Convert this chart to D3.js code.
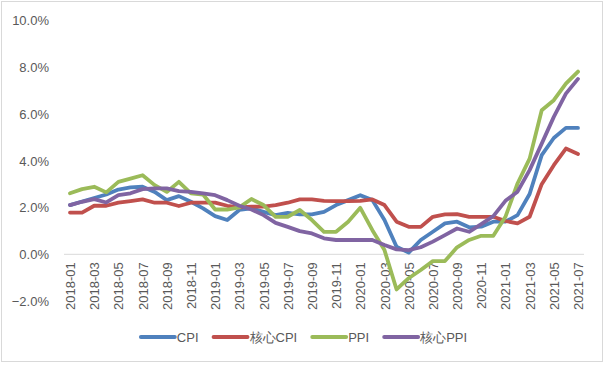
<!DOCTYPE html>
<html>
<head>
<meta charset="utf-8">
<script src="https://cdn.jsdelivr.net/npm/d3@7"></script>
<style>
  html, body { margin: 0; padding: 0; background: #fff; }
  svg { display: block; }
  text { font-family: "Liberation Sans", Arial, sans-serif; fill: #595959; }
</style>
</head>
<body>
<svg id="chart" width="605" height="365"></svg>
<script>
const months = [
  "2018-01","2018-02","2018-03","2018-04","2018-05","2018-06","2018-07","2018-08","2018-09","2018-10","2018-11","2018-12",
  "2019-01","2019-02","2019-03","2019-04","2019-05","2019-06","2019-07","2019-08","2019-09","2019-10","2019-11","2019-12",
  "2020-01","2020-02","2020-03","2020-04","2020-05","2020-06","2020-07","2020-08","2020-09","2020-10","2020-11","2020-12",
  "2021-01","2021-02","2021-03","2021-04","2021-05","2021-06","2021-07"
];
const cpi = [2.10,2.25,2.40,2.55,2.76,2.85,2.88,2.66,2.31,2.48,2.24,1.96,1.63,1.46,1.89,1.96,1.81,1.67,1.77,1.70,1.70,1.81,2.10,2.31,2.52,2.31,1.46,0.32,0.07,0.61,0.96,1.32,1.39,1.15,1.18,1.39,1.39,1.67,2.57,4.23,4.96,5.39,5.39];
const coreCpi = [1.78,1.78,2.07,2.07,2.20,2.27,2.34,2.20,2.20,2.06,2.20,2.20,2.20,2.07,2.00,2.03,2.03,2.10,2.20,2.34,2.34,2.28,2.27,2.27,2.28,2.34,2.10,1.39,1.17,1.17,1.60,1.70,1.71,1.60,1.60,1.60,1.42,1.32,1.60,2.99,3.80,4.51,4.28];
const ppi = [2.60,2.78,2.88,2.64,3.09,3.23,3.37,2.95,2.66,3.09,2.60,2.55,1.91,1.91,2.00,2.36,2.10,1.60,1.60,1.89,1.46,0.96,0.96,1.39,1.98,1.03,0.18,-1.50,-1.02,-0.67,-0.29,-0.29,0.30,0.61,0.79,0.79,1.60,3.02,4.08,6.14,6.57,7.28,7.79];
const corePpi = [2.10,2.24,2.35,2.21,2.52,2.60,2.78,2.81,2.81,2.69,2.66,2.60,2.52,2.31,2.07,1.91,1.67,1.34,1.17,0.99,0.89,0.68,0.61,0.61,0.61,0.61,0.40,0.21,0.18,0.30,0.54,0.82,1.10,0.96,1.29,1.63,2.28,2.67,3.59,4.72,5.86,6.85,7.48];
const seriesNames = ["CPI","核心CPI","PPI","核心PPI"];
const seriesColors = ["#4F81BD","#C0504D","#9BBB59","#8064A2"];
const yTicks = [-2,0,2,4,6,8,10];
const xTickLabels = months.filter((m,i) => i % 2 === 0);

const series = [cpi, coreCpi, ppi, corePpi].map((vals, k) => ({
  name: seriesNames[k], color: seriesColors[k],
  values: vals.map((v, i) => ({m: months[i], v}))
}));

const svg = d3.select("#chart");
const FONT = "\"Liberation Sans\", Arial, sans-serif";

// outer border
svg.append("rect").attr("x",1.5).attr("y",1.5).attr("width",601).attr("height",360)
  .attr("fill","none").attr("stroke","#D9D9D9").attr("stroke-width",1);

const x = d3.scalePoint().domain(months).range([70, 578]);
const y = d3.scaleLinear().domain([-2, 10]).range([301.2, 19.8]);

// y axis labels
const yAxis = d3.axisLeft(y).tickValues(yTicks).tickSize(0).tickPadding(0)
  .tickFormat(d => d3.format(".1f")(d) + "%");
const yg = svg.append("g").attr("transform","translate(49,0)").call(yAxis);
yg.select(".domain").remove();
yg.selectAll("text").style("font-size","13px").style("font-family",FONT).attr("fill","#595959").attr("dy","0.35em");

// zero line
svg.append("line").attr("x1",64).attr("x2",584).attr("y1",y(0)).attr("y2",y(0))
  .attr("stroke","#D9D9D9").attr("stroke-width",1);

// x axis labels
const xAxis = d3.axisBottom(x).tickValues(xTickLabels).tickSize(0);
const xg = svg.append("g").attr("transform",`translate(0,${y(0)})`).call(xAxis);
xg.select(".domain").remove();
xg.selectAll("text")
  .attr("transform","rotate(-90)")
  .attr("x",-8).attr("y",0).attr("dy","0.35em")
  .style("text-anchor","end")
  .style("font-size","13px").style("font-family",FONT)
  .attr("fill","#595959");

// lines
const line = d3.line().x(d => x(d.m)).y(d => y(d.v));
svg.append("g").selectAll("path").data(series).join("path")
  .attr("d", d => line(d.values))
  .attr("fill","none").attr("stroke", d => d.color)
  .attr("stroke-width",3.8).attr("stroke-linejoin","round").attr("stroke-linecap","round");

// legend
const lg = svg.append("g").attr("transform","translate(0,337)");
const items = lg.selectAll("g").data(series).join("g");
items.append("line").attr("x1",0).attr("x2",34).attr("y1",0).attr("y2",0)
  .attr("stroke", d => d.color).attr("stroke-width",3.8).attr("stroke-linecap","round");
items.append("text").attr("x",36).attr("dy","0.35em").text(d => d.name)
  .style("font-size","13px").style("font-family",FONT).attr("fill","#595959");
let cx = 0; const pos = [];
items.each(function(d){ const w = this.getBBox().width; pos.push(cx); cx += w + 15; });
const total = cx - 15;
const start = 304 - total/2;
items.attr("transform",(d,i) => `translate(${start + pos[i]},0)`);
</script>
</body>
</html>
